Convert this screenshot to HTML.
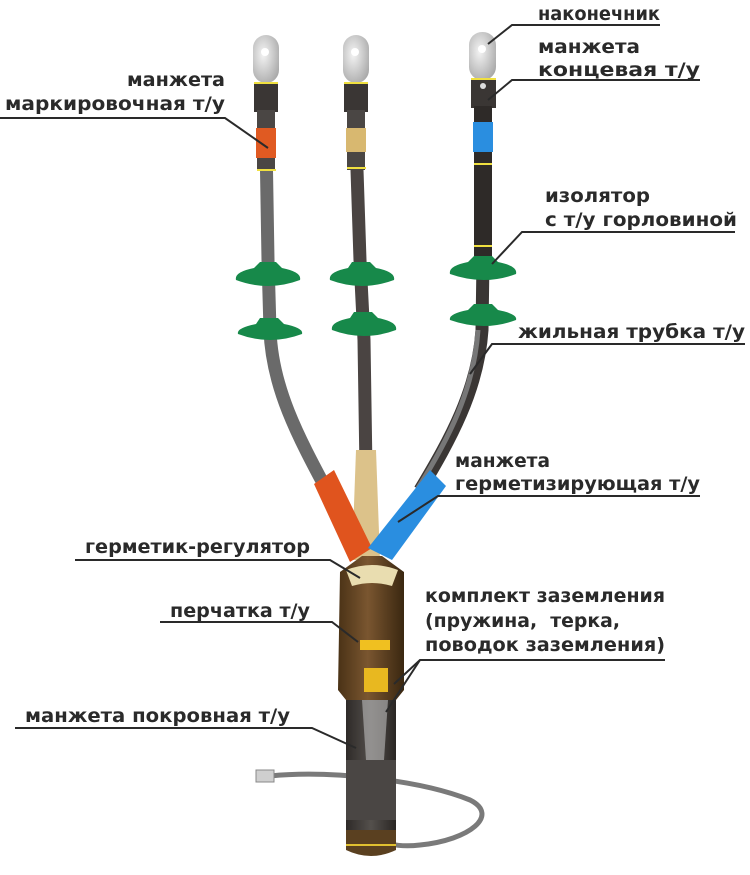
<!DOCTYPE html>
<html><head><meta charset="utf-8"><style>
html,body{margin:0;padding:0;background:#fff;}
svg{display:block}
text{font-family:"DejaVu Sans","Liberation Sans",sans-serif;font-weight:bold;font-size:19px;fill:#2a2a2a;}
</style></head><body>
<svg width="750" height="875" viewBox="0 0 750 875" xmlns="http://www.w3.org/2000/svg">
<defs>
<radialGradient id="lug" cx="0.4" cy="0.4" r="0.7"><stop offset="0" stop-color="#f4f4f4"/><stop offset="1" stop-color="#a8a8a8"/></radialGradient>
<linearGradient id="brown" x1="0" x2="1"><stop offset="0" stop-color="#4a3216"/><stop offset="0.45" stop-color="#7a5630"/><stop offset="1" stop-color="#3a2710"/></linearGradient>
<linearGradient id="dark" x1="0" x2="1"><stop offset="0" stop-color="#2e2a28"/><stop offset="0.5" stop-color="#54504c"/><stop offset="1" stop-color="#2a2624"/></linearGradient>
</defs>

<path d="M270,776 C330,770 420,780 470,800 C500,815 470,840 420,845 C395,848 380,842 372,835" fill="none" stroke="#7a7a7a" stroke-width="5"/>
<rect x="256" y="770" width="18" height="12" fill="#cfcfcf" stroke="#888"/>

<path d="M266,140 L268,260 L270,330 C272,390 300,440 332,500" fill="none" stroke="#6a6a6a" stroke-width="13"/>
<path d="M356,140 L360,260 L364,340 L366,470" fill="none" stroke="#4a4442" stroke-width="13"/>
<path d="M483,140 L483,260 L482,330 C478,390 450,440 420,490" fill="none" stroke="#3a3634" stroke-width="13"/>
<path d="M478,330 C474,390 448,440 418,488" fill="none" stroke="#777" stroke-width="5"/>

<g>
<rect x="253" y="35" width="26" height="48" rx="13" fill="url(#lug)"/><circle cx="265" cy="52" r="4" fill="#fff"/>
<rect x="343" y="35" width="26" height="48" rx="13" fill="url(#lug)"/><circle cx="355" cy="52" r="4" fill="#fff"/>
<rect x="469" y="32" width="27" height="48" rx="13" fill="url(#lug)"/><circle cx="482" cy="49" r="4" fill="#fff"/>
</g>
<rect x="254" y="82" width="24" height="30" fill="#3a3634"/><rect x="257" y="110" width="18" height="60" fill="#4a4644"/>
<rect x="256" y="128" width="20" height="30" fill="#e05a22"/>
<rect x="344" y="82" width="24" height="30" fill="#3a3634"/><rect x="347" y="110" width="18" height="60" fill="#4a4644"/>
<rect x="346" y="128" width="20" height="24" fill="#d8b870"/>
<rect x="471" y="78" width="25" height="30" fill="#3a3634"/><circle cx="483" cy="86" r="3" fill="#ddd"/>
<rect x="474" y="106" width="18" height="150" fill="#2e2a28"/>
<rect x="473" y="122" width="20" height="30" fill="#2a8ee0"/>
<g stroke="#f0e040" stroke-width="2">
<line x1="254" y1="83" x2="278" y2="83"/><line x1="257" y1="170" x2="276" y2="170"/>
<line x1="344" y1="83" x2="368" y2="83"/><line x1="347" y1="168" x2="366" y2="168"/>
<line x1="471" y1="79" x2="496" y2="79"/><line x1="474" y1="164" x2="492" y2="164"/>
<line x1="474" y1="246" x2="492" y2="246"/>
</g>

<g fill="#17894a">
<path d="M260,262 L276,262 L282,268 Q302,272 300,280 Q268,292 236,280 Q234,272 254,268 Z"/>
<path d="M260,318 L278,318 L284,324 Q304,328 302,334 Q270,346 238,334 Q236,328 256,324 Z"/>
<path d="M352,262 L370,262 L376,268 Q396,272 394,280 Q362,292 330,280 Q328,272 348,268 Z"/>
<path d="M354,312 L372,312 L378,318 Q398,322 396,330 Q364,342 332,330 Q330,322 350,318 Z"/>
<path d="M474,256 L492,256 L498,262 Q518,266 516,274 Q484,286 450,274 Q448,266 468,262 Z"/>
<path d="M474,304 L492,304 L498,310 Q518,314 516,320 Q484,332 450,320 Q448,314 468,310 Z"/>
</g>

<path d="M356,450 L376,450 L380,560 L352,560 Z" fill="#dcc28a"/>
<path d="M314,484 L334,470 L372,548 L350,562 Z" fill="#e0541e"/>
<path d="M430,470 L446,486 L392,560 L368,548 Z" fill="#2a8ee0"/>

<path d="M340,572 L362,556 L382,556 L404,572 L404,690 L396,700 L396,848 Q370,860 346,848 L346,700 L338,690 Z" fill="url(#brown)"/>
<path d="M346,570 Q372,560 398,570 L392,586 Q372,580 352,586 Z" fill="#e9ddb0"/>
<rect x="346" y="700" width="50" height="150" fill="url(#dark)"/>
<rect x="346" y="760" width="50" height="60" fill="#4a4644"/>
<path d="M346,830 L396,830 L396,850 Q371,862 346,850 Z" fill="#5a4020"/>
<rect x="360" y="640" width="30" height="10" fill="#f0c020"/>
<rect x="364" y="668" width="24" height="24" fill="#e8b820"/>
<path d="M362,700 L388,700 L384,760 L366,760 Z" fill="#bdbdbd" opacity="0.6"/>
<line x1="346" y1="845" x2="396" y2="845" stroke="#e0c030" stroke-width="2"/>

<g stroke="#2a2a2a" stroke-width="2" fill="none">
<polyline points="0,118 225,118 268,148"/>
<polyline points="660,25 512,25 488,44"/>
<polyline points="700,80 512,80 488,100"/>
<polyline points="735,232 522,232 492,264"/>
<polyline points="745,344 492,344 470,374"/>
<polyline points="700,496 438,496 398,522"/>
<polyline points="75,560 330,560 360,578"/>
<polyline points="665,660 420,660 394,684"/>
<polyline points="420,660 386,712"/>
<polyline points="160,622 332,622 358,642"/>
<polyline points="15,728 312,728 356,748"/>
</g>

<g>
<text x="127" y="86" textLength="98" lengthAdjust="spacingAndGlyphs">манжета</text>
<text x="5" y="110" textLength="220" lengthAdjust="spacingAndGlyphs">маркировочная т/у</text>
<text x="538" y="20" textLength="122" lengthAdjust="spacingAndGlyphs">наконечник</text>
<text x="538" y="53" textLength="102" lengthAdjust="spacingAndGlyphs">манжета</text>
<text x="538" y="76" textLength="162" lengthAdjust="spacingAndGlyphs">концевая т/у</text>
<text x="545" y="202" textLength="105" lengthAdjust="spacingAndGlyphs">изолятор</text>
<text x="545" y="226" textLength="192" lengthAdjust="spacingAndGlyphs">с т/у горловиной</text>
<text x="518" y="338" textLength="227" lengthAdjust="spacingAndGlyphs">жильная трубка т/у</text>
<text x="455" y="467" textLength="95" lengthAdjust="spacingAndGlyphs">манжета</text>
<text x="455" y="490" textLength="245" lengthAdjust="spacingAndGlyphs">герметизирующая т/у</text>
<text x="85" y="553" textLength="225" lengthAdjust="spacingAndGlyphs">герметик-регулятор</text>
<text x="425" y="602" textLength="240" lengthAdjust="spacingAndGlyphs">комплект заземления</text>
<text x="425" y="627" textLength="195" lengthAdjust="spacingAndGlyphs" xml:space="preserve">(пружина,  терка,</text>
<text x="425" y="651" textLength="240" lengthAdjust="spacingAndGlyphs">поводок заземления)</text>
<text x="170" y="617" textLength="140" lengthAdjust="spacingAndGlyphs">перчатка т/у</text>
<text x="25" y="722" textLength="265" lengthAdjust="spacingAndGlyphs">манжета покровная т/у</text>
</g>
</svg>
</body></html>
